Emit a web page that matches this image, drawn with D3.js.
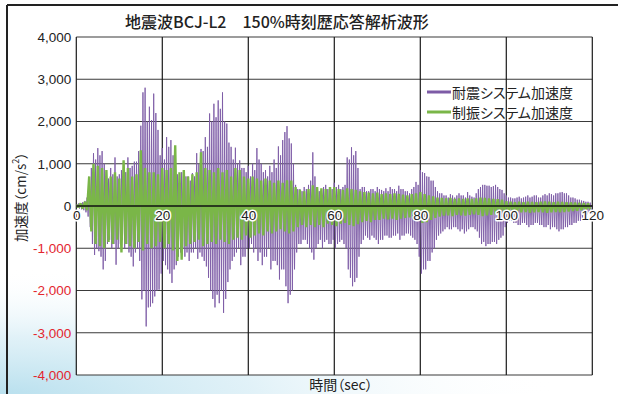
<!DOCTYPE html>
<html>
<head>
<meta charset="utf-8">
<script src="https://cdn.jsdelivr.net/npm/d3@7"></script>
<style>
  html, body { margin: 0; padding: 0; background: #fff; }
  svg { display: block; }
  .jp { font-family: "Noto Sans CJK JP", "Noto Sans", sans-serif; font-feature-settings: "palt"; }
</style>
</head>
<body>
<svg id="chart" width="618" height="394"></svg>
<script>
// Time axis (seconds) and acceleration axis (cm/s²)
const xTicks = [0, 20, 40, 60, 80, 100, 120];
const yTicks = [-4000, -3000, -2000, -1000, 0, 1000, 2000, 3000, 4000];

const seriesNames = ["耐震システム加速度", "制振システム加速度"];
const seriesColors = ["#7d5ba6", "#7ab648"];

// Conventional (耐震) structure: peaks every 0.5 s (t = 0 … 119.5 s)
const seismicStep = 0.5;
const seismicPos = [
  40, 60, 70, 90, 120, 200,  400, 900, 1250, 1100, 1370, 1200,
  1300, 1000, 800, 650, 900, 750,  1150, 700, 750, 850, 1000, 800,
  1150, 900, 950, 1050, 1050, 1300,  1900, 2690, 2800, 2000, 2350, 2030,
  2660, 2200, 1800, 1200, 1370, 1100,  1630, 1400, 1560, 1200, 900, 750,
  650, 800, 850, 700, 700, 600,  780, 700, 1250, 1000, 1350, 1300,
  1630, 1400, 2190, 2000, 2420, 2100,  2500, 2300, 2690, 2000, 1950, 1500,
  1400, 1100, 1380, 1000, 1080, 900,  900, 800, 950, 700, 1000, 850,
  1370, 1100, 1000, 800, 850, 700,  950, 800, 1100, 900, 1410, 1200,
  1560, 1750, 1890, 1600, 1480, 1000,  500, 400, 400, 350, 450, 400,
  500, 600, 1270, 700, 400, 350,  380, 450, 500, 400, 450, 400,
  550, 450, 500, 400, 450, 500,  1150, 1100, 1390, 1200, 1300, 900,
  400, 450, 450, 350, 350, 400,  400, 350, 450, 400, 380, 350,
  420, 350, 450, 400, 400, 350,  480, 400, 400, 350, 350, 300,
  400, 450, 570, 500, 850, 800,  780, 700, 690, 600, 600, 450,
  350, 300, 300, 250, 250, 200,  280, 250, 200, 250, 300, 250,
  250, 200, 330, 250, 220, 200,  300, 400, 450, 500, 500, 480,
  480, 450, 470, 500, 450, 400,  380, 300, 250, 200, 200, 180,
  180, 200, 220, 180, 200, 220,  250, 200, 220, 250, 250, 200,
  200, 250, 280, 250, 300, 280,  250, 300, 300, 320, 330, 300,
  300, 250, 200, 200, 180, 150,  150, 130, 120, 100, 100, 80
];
const seismicNeg = [
  -40, -60, -80, -100, -150, -250,  -500, -900, -1160, -1000, -1070, -1200,
  -1500, -1300, -900, -800, -1000, -900,  -1390, -1000, -900, -800, -1000, -900,
  -1100, -1200, -1430, -1100, -1000, -1300,  -2210, -2000, -2850, -2400, -2380, -2300,
  -2140, -2000, -1980, -1600, -1300, -1400,  -1500, -1600, -1820, -1500, -1400, -1200,
  -1100, -1000, -1200, -1100, -1300, -1100,  -1100, -1000, -1250, -1100, -1200, -1300,
  -1430, -1700, -2000, -2200, -2400, -2100,  -2300, -2000, -2530, -2200, -1800, -1500,
  -1300, -1200, -1100, -1000, -1400, -1200,  -1200, -1000, -1000, -900, -1100, -1000,
  -1300, -1100, -1400, -1200, -1200, -1000,  -1500, -1300, -1300, -1400, -1740, -1500,
  -1500, -1900, -2300, -2100, -2000, -1500,  -1100, -900, -900, -800, -800, -900,
  -1000, -1100, -1270, -1000, -900, -800,  -1000, -850, -800, -900, -900, -800,
  -1000, -900, -850, -800, -900, -1000,  -1500, -1700, -1900, -1800, -1700, -1200,
  -900, -800, -700, -750, -800, -700,  -750, -800, -900, -800, -800, -700,
  -700, -750, -750, -700, -700, -650,  -800, -700, -700, -650, -650, -700,
  -750, -800, -900, -1200, -1600, -1500,  -1500, -1300, -1300, -1100, -1000, -800,
  -700, -650, -600, -550, -500, -550,  -550, -500, -500, -550, -600, -550,
  -650, -600, -550, -500, -500, -550,  -600, -750, -900, -850, -950, -900,
  -900, -850, -850, -900, -800, -750,  -700, -500, -400, -350, -350, -400,
  -400, -450, -450, -400, -400, -450,  -500, -450, -450, -400, -400, -450,
  -450, -500, -500, -450, -550, -500,  -500, -550, -600, -550, -550, -500,
  -500, -450, -450, -400, -400, -350,  -350, -300, -250, -200, -150, -100
];

// Damped (制振) structure: peaks every 1 s (t = 0 … 119 s)
const dampedStep = 1;
const dampedPos = [
  30, 60, 100, 700, 1000, 950, 900, 850, 700, 800,
  650, 1080, 900, 700, 750, 1320, 900, 800, 800, 750,
  900, 850, 900, 1440, 800, 850, 700, 750, 800, 1270,
  900, 850, 800, 900, 800, 850, 700, 900, 850, 700,
  650, 700, 650, 600, 650, 600, 550, 600, 550, 610,
  600, 450, 380, 350, 400, 490, 450, 420, 400, 450,
  450, 400, 380, 420, 400, 380, 350, 330, 320, 300,
  320, 280, 300, 280, 300, 290, 270, 250, 280, 300,
  330, 280, 250, 230, 200, 190, 180, 190, 170, 180,
  170, 180, 170, 180, 200, 190, 180, 170, 160, 150,
  110, 100, 90, 100, 90, 100, 95, 90, 100, 105,
  100, 90, 100, 95, 90, 85, 80, 75, 70, 60
];
const dampedNeg = [
  -30, -60, -100, -600, -900, -950, -1000, -850, -900, -800,
  -1100, -900, -950, -1000, -850, -1050, -900, -1000, -950, -850,
  -1000, -900, -1050, -1300, -1270, -950, -900, -850, -800, -950,
  -900, -850, -900, -800, -850, -900, -800, -750, -800, -700,
  -750, -700, -650, -700, -600, -650, -600, -550, -600, -650,
  -600, -500, -450, -500, -450, -500, -450, -500, -420, -450,
  -480, -420, -400, -450, -480, -430, -380, -350, -380, -330,
  -330, -300, -320, -300, -330, -300, -280, -270, -300, -350,
  -400, -380, -330, -280, -250, -230, -220, -240, -210, -220,
  -230, -210, -200, -210, -240, -220, -210, -200, -180, -170,
  -150, -140, -130, -150, -140, -160, -150, -140, -150, -160,
  -150, -140, -150, -140, -130, -120, -110, -100, -90, -80
];

const svg = d3.select("#chart");
const W = 618, H = 394;
const plot = { left: 76.3, right: 592.3, top: 37, bottom: 375 };
const numFont = '"Liberation Sans", Arial, Helvetica, sans-serif';

// Soft blue wash in the lower-left corner of the panel
const defs = svg.append("defs");
const grad = defs.append("radialGradient")
  .attr("id", "wash").attr("cx", 0).attr("cy", 1).attr("r", 1)
  .attr("gradientUnits", "objectBoundingBox")
  .attr("gradientTransform", "translate(0,1) scale(1,0.32) translate(0,-1)");
grad.append("stop").attr("offset", "0%").attr("stop-color", "#b9e0ee").attr("stop-opacity", 1);
grad.append("stop").attr("offset", "45%").attr("stop-color", "#d9eef6").attr("stop-opacity", 0.8);
grad.append("stop").attr("offset", "100%").attr("stop-color", "#ffffff").attr("stop-opacity", 0);
svg.append("rect").attr("x", 0).attr("y", 0).attr("width", 560).attr("height", H)
  .attr("fill", "url(#wash)");

defs.append("clipPath").attr("id", "plotClip").append("rect")
  .attr("x", plot.left).attr("y", plot.top)
  .attr("width", plot.right - plot.left).attr("height", plot.bottom - plot.top);

// Panel frame (top and left edges)
svg.append("line").attr("x1", 7).attr("x2", W).attr("y1", 5).attr("y2", 5)
  .attr("stroke", "#222").attr("stroke-width", 2);
svg.append("line").attr("x1", 7).attr("x2", 7).attr("y1", 5).attr("y2", H)
  .attr("stroke", "#222").attr("stroke-width", 2);

const x = d3.scaleLinear().domain([0, 120]).range([plot.left, plot.right]);
const y = d3.scaleLinear().domain([-4000, 4000]).range([plot.bottom, plot.top]);

// Plot background
svg.append("rect").attr("x", plot.left).attr("y", plot.top)
  .attr("width", plot.right - plot.left).attr("height", plot.bottom - plot.top)
  .attr("fill", "#fff");

// Grid
const grid = svg.append("g");
grid.selectAll("line.h").data(yTicks).join("line").attr("class", "h")
  .attr("x1", plot.left).attr("x2", plot.right)
  .attr("y1", d => y(d)).attr("y2", d => y(d))
  .attr("stroke", "#3a3a3a").attr("stroke-width", 1.2);
grid.selectAll("line.v").data(xTicks).join("line").attr("class", "v")
  .attr("x1", d => x(d)).attr("x2", d => x(d))
  .attr("y1", plot.top).attr("y2", plot.bottom)
  .attr("stroke", "#1a1a1a").attr("stroke-width", 1.2);

// Waveforms: within each step the trace swings to the positive peak and,
// half a step later, to the negative peak
function toPoints(pos, neg, step) {
  const pts = [];
  pos.forEach((p, i) => {
    pts.push([i * step, p]);
    pts.push([i * step + step / 2, neg[i]]);
  });
  return pts;
}
const line = d3.line().x(d => x(d[0])).y(d => y(d[1]));
const waves = svg.append("g").attr("clip-path", "url(#plotClip)");
waves.append("path").datum(toPoints(seismicPos, seismicNeg, seismicStep))
  .attr("d", line).attr("fill", "none")
  .attr("stroke", seriesColors[0]).attr("stroke-width", 0.9).attr("stroke-linejoin", "bevel");
waves.append("path").datum(toPoints(dampedPos, dampedNeg, dampedStep))
  .attr("d", line).attr("fill", "none")
  .attr("stroke", seriesColors[1]).attr("stroke-width", 2.4).attr("stroke-linejoin", "bevel");

// Zero line
svg.append("line").attr("x1", plot.left).attr("x2", plot.right)
  .attr("y1", y(0)).attr("y2", y(0)).attr("stroke", "#111").attr("stroke-width", 1.3);

// Y axis labels (hyphen minus, thousands separator)
const fmt = d3.formatLocale({ decimal: ".", thousands: ",", grouping: [3], currency: ["", ""], minus: "-" }).format(",");
const yAxis = d3.axisLeft(y).tickValues(yTicks).tickSize(0).tickPadding(5).tickFormat(fmt);
const gy = svg.append("g").attr("transform", `translate(${plot.left},0)`).call(yAxis)
  .attr("font-family", numFont).attr("font-size", 13.5);
gy.select(".domain").remove();
gy.selectAll("text").attr("fill", d => d < 0 ? "#e3262f" : "#222");

// X axis labels sit just under the zero line, haloed in white
const xAxis = d3.axisBottom(x).tickValues(xTicks).tickSize(0).tickPadding(4);
const gx = svg.append("g").attr("transform", `translate(0,${y(0)})`).call(xAxis)
  .attr("font-family", numFont).attr("font-size", 13.5);
gx.select(".domain").remove();
gx.selectAll("text")
  .attr("fill", "#222").attr("stroke", "#fff").attr("stroke-width", 3)
  .attr("paint-order", "stroke").attr("stroke-linejoin", "round");

// Title
svg.append("text").attr("class", "jp")
  .attr("x", 277).attr("y", 28).attr("text-anchor", "middle")
  .style("font-size", "16px").style("font-weight", 500).attr("fill", "#222")
  .text("地震波BCJ-L2　150%時刻歴応答解析波形");

// Axis titles
const yTitle = svg.append("text").attr("class", "jp")
  .attr("transform", "translate(22,197) rotate(-90)")
  .attr("text-anchor", "middle").attr("dominant-baseline", "middle")
  .style("font-size", "13.5px").attr("fill", "#222");
yTitle.append("tspan").text("加速度（cm/s");
yTitle.append("tspan").attr("dy", -5).style("font-size", "9px").text("2");
yTitle.append("tspan").attr("dy", 5).text("）");

svg.append("text").attr("class", "jp")
  .attr("x", 341).attr("y", 390).attr("text-anchor", "middle")
  .style("font-size", "14px").attr("fill", "#222")
  .text("時間（sec）");

// Legend
const legend = svg.append("g").attr("transform", "translate(427,92)");
seriesNames.forEach((name, i) => {
  const row = legend.append("g").attr("transform", `translate(0,${i * 20})`);
  row.append("line").attr("x1", 0).attr("x2", 24).attr("y1", 0).attr("y2", 0)
    .attr("stroke", seriesColors[i]).attr("stroke-width", 3);
  row.append("text").attr("class", "jp").attr("x", 25).attr("y", 0)
    .attr("dominant-baseline", "central")
    .style("font-size", "14px").attr("fill", "#222").text(name);
});
</script>
</body>
</html>
